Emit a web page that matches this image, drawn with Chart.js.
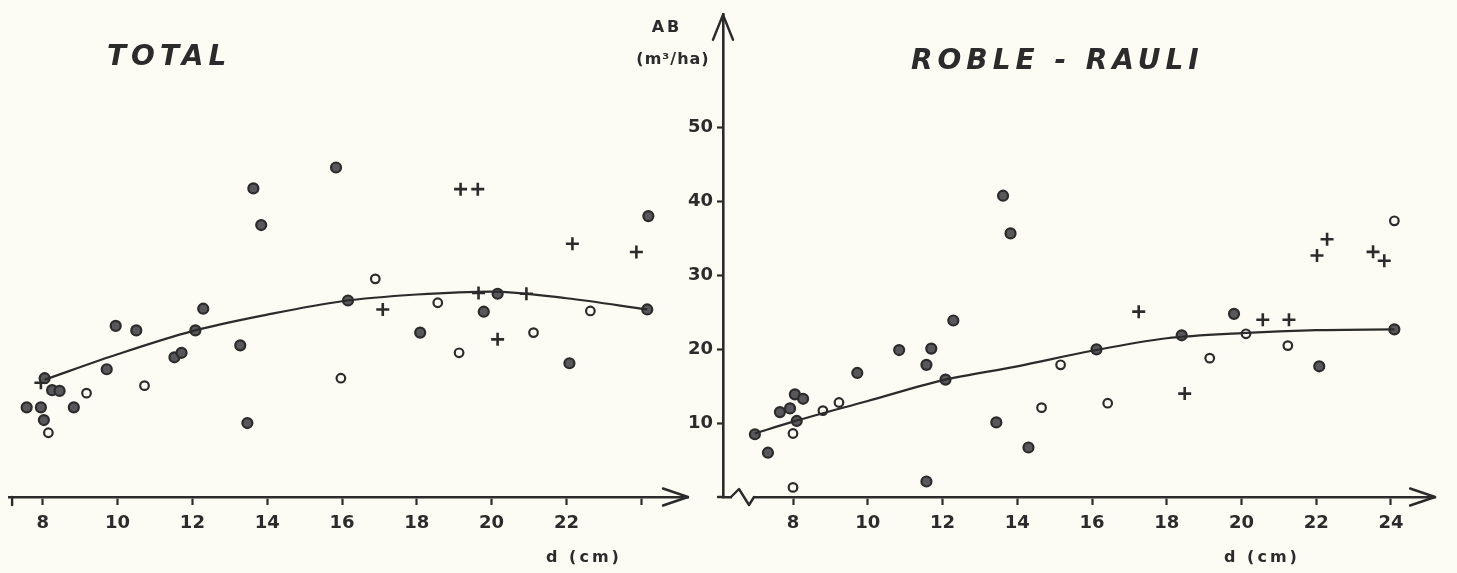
<!DOCTYPE html>
<html>
<head>
<meta charset="utf-8">
<title>AB - d</title>
<script src="https://cdn.jsdelivr.net/npm/chart.js@4.4.1/dist/chart.umd.min.js"></script>
<style>
  html, body { margin: 0; padding: 0; background: #fcfcf4; }
  #wrap { position: relative; width: 1457px; height: 573px; overflow: hidden; }
  #total_graph { position: absolute; left: 0; top: 0; }
  #roble_graph { position: absolute; left: 600px; top: 0; }
</style>
</head>
<body>
<div id="wrap">
  <canvas id="total_graph" width="700" height="573"></canvas>
  <canvas id="roble_graph" width="857" height="573"></canvas>
</div>
<script>
// TOTAL - dark circles
var totalDarkX = [7.57, 7.95, 8.03, 8.05, 8.25, 8.45, 8.83, 9.71, 9.95, 10.5, 11.52, 11.71, 12.08, 12.29, 13.28, 13.47, 13.63, 13.84, 15.84, 16.16, 18.09, 19.79, 20.16, 22.08, 24.16, 24.19];
var totalDarkY = [12.0, 12.0, 10.3, 15.9, 14.3, 14.2, 12.0, 17.1, 22.9, 22.3, 18.7, 19.3, 22.3, 25.2, 20.3, 9.9, 41.3, 36.4, 44.1, 26.3, 22.0, 24.8, 27.2, 17.9, 25.1, 37.6];
// TOTAL - open circles
var totalOpenX = [8.15, 9.17, 10.72, 15.97, 16.89, 18.56, 19.13, 21.12, 22.64];
var totalOpenY = [8.6, 13.9, 14.9, 15.9, 29.2, 26.0, 19.3, 22.0, 24.9];
// TOTAL - crosses
var totalPlusX = [7.95, 17.09, 19.17, 19.63, 19.65, 20.16, 20.93, 22.16, 23.87];
var totalPlusY = [15.3, 25.1, 41.2, 41.2, 27.3, 21.1, 27.2, 33.9, 32.8];
// TOTAL - fitted curve
var totalCurveX = [8.05, 10, 12, 14, 16, 18, 20, 22, 24.16];
var totalCurveY = [15.7, 19.1, 22.2, 24.4, 26.2, 27.1, 27.5, 26.6, 25.1];

// ROBLE-RAULI - dark circles
var robleDarkX = [6.98, 7.33, 7.65, 7.92, 8.05, 8.27, 8.1, 9.72, 10.84, 11.7, 11.57, 12.29, 12.08, 11.57, 13.44, 13.62, 13.82, 14.3, 16.12, 18.4, 19.8, 22.08, 24.09];
var robleDarkY = [8.5, 6.0, 11.5, 12.0, 13.9, 13.3, 10.3, 16.8, 19.9, 20.1, 17.9, 23.9, 15.9, 2.1, 10.1, 40.8, 35.7, 6.7, 20.0, 21.9, 24.8, 17.7, 22.7];
// ROBLE-RAULI - open circles
var robleOpenX = [8.0, 8.0, 8.8, 9.23, 14.65, 15.16, 16.42, 19.15, 20.12, 21.24, 24.09];
var robleOpenY = [8.6, 1.3, 11.7, 12.8, 12.1, 17.9, 12.7, 18.8, 22.1, 20.5, 37.4];
// ROBLE-RAULI - crosses
var roblePlusX = [17.25, 18.48, 20.57, 21.27, 22.29, 22.02, 23.52, 23.82];
var roblePlusY = [25.1, 14.0, 24.0, 24.0, 34.9, 32.7, 33.2, 32.0];
// ROBLE-RAULI - fitted curve
var robleCurveX = [6.98, 8, 10, 12, 14, 16, 18, 20, 22, 24.09];
var robleCurveY = [8.6, 10.2, 13.0, 15.8, 17.7, 19.8, 21.5, 22.2, 22.6, 22.7];

// tick labels
var yTickLabels = [10, 20, 30, 40, 50];
var xTitle = "d (cm)";
var yTitle = "AB";
var yUnit = "(m\u00b3/ha)";

var INK = "#2b2b2b";
var PAPER = "#fcfcf4";
var FONT = "'DejaVu Sans', sans-serif";

// unisce due array in punti {x, y}
function toPoints(xs, ys) {
  var pts = [];
  for (var i = 0; i < xs.length; i++) {
    pts.push({ x: xs[i], y: ys[i] });
  }
  return pts;
}

function buildDatasets(darkX, darkY, openX, openY, plusX, plusY, curveX, curveY) {
  return [
    {
      data: toPoints(curveX, curveY),
      showLine: true,
      pointRadius: 0,
      borderColor: INK,
      borderWidth: 2.2,
      cubicInterpolationMode: "monotone",
      fill: false
    },
    {
      data: toPoints(darkX, darkY),
      pointStyle: "circle",
      pointRadius: 5,
      pointBorderWidth: 2.2,
      pointBorderColor: INK,
      pointBackgroundColor: "#58585a"
    },
    {
      data: toPoints(openX, openY),
      pointStyle: "circle",
      pointRadius: 4.3,
      pointBorderWidth: 2.2,
      pointBorderColor: INK,
      pointBackgroundColor: PAPER
    },
    {
      data: toPoints(plusX, plusY),
      pointStyle: "cross",
      pointRadius: 6.5,
      pointBorderWidth: 2.6,
      pointBorderColor: INK
    }
  ];
}

// frecce, titoli e interruzione dell'asse
var decorations = {
  id: "decorations",
  afterDraw: function(chart, args, opts) {
    var ctx = chart.ctx;
    var area = chart.chartArea;
    ctx.save();
    ctx.strokeStyle = INK;
    ctx.fillStyle = INK;
    ctx.lineWidth = 2.4;
    ctx.lineCap = "round";
    ctx.lineJoin = "round";

    // freccia asse x
    ctx.beginPath();
    ctx.moveTo(area.right - 25, area.bottom - 8.5);
    ctx.lineTo(area.right, area.bottom);
    ctx.lineTo(area.right - 25, area.bottom + 8.5);
    ctx.stroke();

    if (opts.startTick) {
      ctx.beginPath();
      ctx.moveTo(area.left + 3, area.bottom);
      ctx.lineTo(area.left + 3, area.bottom + 8);
      ctx.stroke();
    }

    if (opts.yArrow) {
      ctx.beginPath();
      ctx.moveTo(area.left - 10, area.top + 25);
      ctx.lineTo(area.left, area.top);
      ctx.lineTo(area.left + 10, area.top + 25);
      ctx.stroke();

      // tratto a sinistra dell'origine e spezzata
      ctx.beginPath();
      ctx.moveTo(area.left - 5, area.bottom);
      ctx.lineTo(area.left, area.bottom);
      ctx.stroke();

      ctx.fillStyle = PAPER;
      ctx.fillRect(area.left + 9, area.bottom - 3, 22, 6);
      ctx.beginPath();
      ctx.moveTo(area.left + 8, area.bottom);
      ctx.lineTo(area.left + 16, area.bottom - 8);
      ctx.lineTo(area.left + 26, area.bottom + 8);
      ctx.lineTo(area.left + 31, area.bottom);
      ctx.stroke();
      ctx.fillStyle = INK;

      ctx.textAlign = "center";
      ctx.textBaseline = "middle";
      ctx.letterSpacing = "3px";
      ctx.font = "bold 16px " + FONT;
      ctx.fillText(yTitle, opts.yTitleX, 28);
      ctx.letterSpacing = "1px";
      ctx.font = "bold 16px " + FONT;
      ctx.fillText(yUnit, opts.yTitleX + 6, 60);
    }

    // titolo del pannello
    ctx.textAlign = "left";
    ctx.textBaseline = "middle";
    ctx.letterSpacing = "5px";
    ctx.font = "italic bold 28px " + FONT;
    ctx.fillText(opts.title, opts.titleX, opts.titleY);

    // titolo asse x
    ctx.textAlign = "center";
    ctx.letterSpacing = "3px";
    ctx.font = "bold 16px " + FONT;
    ctx.fillText(xTitle, opts.xTitleX, 558);
    ctx.restore();
  }
};

function xScale(min, max, hideLast) {
  return {
    type: "linear",
    min: min,
    max: max,
    afterFit: function(scale) { scale.height = 76; },
    border: { display: true, color: INK, width: 2.6 },
    grid: {
      drawOnChartArea: false,
      drawTicks: true,
      tickLength: 8,
      tickColor: INK,
      tickWidth: 2.2
    },
    ticks: {
      stepSize: 2,
      includeBounds: false,
      padding: 8,
      color: INK,
      font: { family: FONT, size: 18, weight: "bold" },
      maxRotation: 0,
      autoSkip: false,
      callback: function(value) {
        if (hideLast && value === 24) {
          return "";
        }
        return String(value);
      }
    }
  };
}

// grafico TOTAL
function printTotalGraph() {
  var ctxTotal = document.getElementById("total_graph").getContext("2d");

  var totalGraph = new Chart(ctxTotal, {
    type: "scatter",
    data: {
      datasets: buildDatasets(totalDarkX, totalDarkY, totalOpenX, totalOpenY,
                              totalPlusX, totalPlusY, totalCurveX, totalCurveY)
    },
    options: {
      responsive: false,
      animation: false,
      layout: { padding: { left: 7.25, right: 12, top: 7.25, bottom: 0 } },
      plugins: {
        legend: { display: false },
        tooltip: { enabled: false },
        decorations: {
          title: "TOTAL",
          titleX: 107,
          titleY: 58,
          xTitleX: 584,
          startTick: true,
          yArrow: false
        }
      },
      scales: {
        x: xScale(7.1, 25.25, true),
        y: { type: "linear", min: 0, max: 65.3, display: false }
      }
    },
    plugins: [decorations]
  });
}

// grafico ROBLE-RAULI
function printRobleGraph() {
  var ctxRoble = document.getElementById("roble_graph").getContext("2d");

  var robleGraph = new Chart(ctxRoble, {
    type: "scatter",
    data: {
      datasets: buildDatasets(robleDarkX, robleDarkY, robleOpenX, robleOpenY,
                              roblePlusX, roblePlusY, robleCurveX, robleCurveY)
    },
    options: {
      responsive: false,
      animation: false,
      layout: { padding: { left: 0, right: 21.9, top: 7.25, bottom: 0 } },
      plugins: {
        legend: { display: false },
        tooltip: { enabled: false },
        decorations: {
          title: "ROBLE - RAULI",
          titleX: 311,
          titleY: 62,
          xTitleX: 662,
          yTitleX: 67,
          startTick: false,
          yArrow: true
        }
      },
      scales: {
        x: xScale(6.127, 25.18, false),
        y: {
          type: "linear",
          min: 0,
          max: 65.3,
          afterFit: function(scale) { scale.width = 123; },
          border: { display: true, color: INK, width: 2.6 },
          grid: {
            drawOnChartArea: false,
            drawTicks: true,
            tickLength: 6,
            tickWidth: 2.2,
            tickColor: function(c) {
              return yTickLabels.indexOf(c.tick.value) >= 0 ? INK : "rgba(0,0,0,0)";
            }
          },
          ticks: {
            stepSize: 10,
            includeBounds: false,
            padding: 4,
            color: INK,
            font: { family: FONT, size: 18, weight: "bold" },
            callback: function(value) {
              return yTickLabels.indexOf(value) >= 0 ? String(value) : "";
            }
          }
        }
      }
    },
    plugins: [decorations]
  });
}

printTotalGraph();
printRobleGraph();
</script>
</body>
</html>
